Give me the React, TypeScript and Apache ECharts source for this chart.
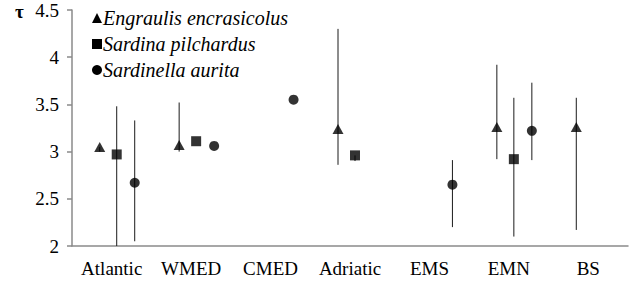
import React, { useEffect, useRef } from "react";
import * as echarts from "echarts";

const categories = ["Atlantic", "WMED", "CMED", "Adriatic", "EMS", "EMN", "BS"];
const speciesNames = ["Engraulis encrasicolus", "Sardina pilchardus", "Sardinella aurita"];

const engraulis = [3.05, 3.07, null, 3.24, null, 3.26, 3.26];
const engraulisLow = [3.0, 3.0, null, 2.86, null, 2.92, 2.17];
const engraulisHigh = [3.05, 3.52, null, 4.3, null, 3.92, 3.57];

const sardina = [2.97, 3.11, null, 2.96, null, 2.92, null];
const sardinaLow = [2.0, null, null, 2.9, null, 2.1, null];
const sardinaHigh = [3.48, null, null, 2.96, null, 3.57, null];

const sardinella = [2.67, 3.06, 3.55, null, 2.65, 3.22, null];
const sardinellaLow = [2.05, null, null, null, 2.2, 2.91, null];
const sardinellaHigh = [3.33, null, null, null, 2.91, 3.73, null];

const yTicks = { min: 2, max: 4.5, interval: 0.5 };

export default function App() {
  const ref = useRef<HTMLDivElement>(null);
  useEffect(() => {
    if (!ref.current) return;
    const chart = echarts.init(ref.current, undefined, { renderer: "svg" });
    const font = "Times New Roman, Liberation Serif, DejaVu Serif, serif";
    const values = [engraulis, sardina, sardinella];
    const lows = [engraulisLow, sardinaLow, sardinellaLow];
    const highs = [engraulisHigh, sardinaHigh, sardinellaHigh];
    const offsets = [-12, 5, 23];
    const symbols = ["triangle", "rect", "circle"];
    const sizes: any[] = [[11, 10], [10, 10], [10, 10]];

    const series: any[] = [];
    values.forEach((vals, s) => {
      const errData: any[] = [];
      vals.forEach((_, i) => {
        const lo = lows[s][i];
        const hi = highs[s][i];
        if (lo != null && hi != null) errData.push([i, lo, hi]);
      });
      const off = offsets[s];
      series.push({
        type: "custom",
        name: speciesNames[s],
        data: errData,
        encode: { x: 0, y: [1, 2] },
        z: 1,
        renderItem: (params: any, api: any) => {
          const i = api.value(0);
          const p1 = api.coord([i, api.value(1)]);
          const p2 = api.coord([i, api.value(2)]);
          return {
            type: "line",
            shape: { x1: p1[0] + off, y1: p1[1], x2: p1[0] + off, y2: p2[1] },
            style: { stroke: "#1a1a1a", lineWidth: 1 },
          };
        },
      });
      series.push({
        type: "scatter",
        name: speciesNames[s],
        data: vals.map((v) => (v == null ? "-" : v)),
        symbol: symbols[s],
        symbolSize: sizes[s],
        symbolOffset: [off, 0],
        itemStyle: { color: "#000" },
        z: 3,
      });
    });

    chart.setOption({
      animation: false,
      grid: { left: 72, right: 7, top: 10, bottom: 37 },
      legend: {
        orient: "vertical",
        left: 87,
        top: 3,
        itemWidth: 10,
        itemHeight: 10,
        itemGap: 6,
        selectedMode: false,
        textStyle: { fontFamily: font, fontSize: 20, fontStyle: "italic", color: "#000", padding: [0, 0, 0, -4], lineHeight: 20 },
        data: [
          { name: speciesNames[0], icon: "triangle", itemStyle: { color: "#000" } },
          { name: speciesNames[1], icon: "rect", itemStyle: { color: "#000" } },
          { name: speciesNames[2], icon: "circle", itemStyle: { color: "#000" } },
        ],
      },
      xAxis: {
        type: "category",
        data: categories,
        boundaryGap: true,
        axisLine: { lineStyle: { color: "#8a8a8a", width: 1.5 } },
        axisTick: { length: 5, lineStyle: { color: "#8a8a8a", width: 1.5 } },
        axisLabel: { fontFamily: font, fontSize: 19, color: "#000", margin: 13, interval: 0 },
        splitLine: { show: false },
      },
      yAxis: {
        type: "value",
        min: yTicks.min,
        max: yTicks.max,
        interval: yTicks.interval,
        axisLine: { show: true, lineStyle: { color: "#8a8a8a", width: 1.5 } },
        axisTick: { show: true, length: 5, lineStyle: { color: "#8a8a8a", width: 1.5 } },
        axisLabel: { fontFamily: font, fontSize: 19, color: "#000", margin: 13 },
        splitLine: { show: false },
      },
      graphic: [
        {
          type: "text",
          left: 15,
          top: 2,
          style: { text: "τ", fontFamily: font, fontSize: 19, fontWeight: "bold", fill: "#000" },
        },
      ],
      series,
    });
    return () => chart.dispose();
  }, []);
  return (
    <div
      ref={ref}
      style={{ position: "fixed", left: 0, top: 0, width: 635, height: 283, background: "#fff" }}
    />
  );
}
